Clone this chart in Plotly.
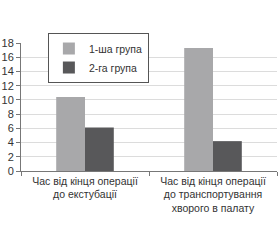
import plotly.graph_objects as go

categories = ["Час від кінця операції<br>до екстубації",
              "Час від кінця операції<br>до транспортування<br>хворого в палату"]
group1 = [10.4, 17.3]
group2 = [6.1, 4.2]
names = ["1-ша група", "2-га група"]
colors = ["#a8a8aa", "#58585a"]
yticks = list(range(0, 19, 2))

fig = go.Figure()
for name, vals, c in zip(names, [group1, group2], colors):
    fig.add_trace(go.Bar(x=categories, y=vals, name=name,
                         marker=dict(color=c, line=dict(width=0))))

fig.update_layout(
    width=280, height=240,
    margin=dict(l=21, r=3, t=43, b=69),
    paper_bgcolor="white", plot_bgcolor="white",
    barmode="group", bargap=0.55, bargroupgap=0,
    font=dict(family="Liberation Sans, Arial", size=11, color="#333333"),
    legend=dict(x=0.105, y=1.078, xanchor="left", yanchor="top",
                bordercolor="#555555", borderwidth=1, bgcolor="white",
                font=dict(size=10.5), itemwidth=30, tracegroupgap=0),
    showlegend=True,
)
fig.update_xaxes(showline=True, linecolor="#777777", linewidth=1,
                 ticks="outside", tickson="boundaries", ticklen=4,
                 tickcolor="#777777", tickfont=dict(size=10.5),
                 showgrid=False)
fig.update_yaxes(range=[0, 18], tickvals=yticks, showline=True,
                 linecolor="#777777", linewidth=1, ticks="outside",
                 ticklen=4, tickcolor="#777777", showgrid=True,
                 gridcolor="#dcdcdc", gridwidth=1, zeroline=False,
                 tickfont=dict(size=11))

fig.write_html("out.html")
